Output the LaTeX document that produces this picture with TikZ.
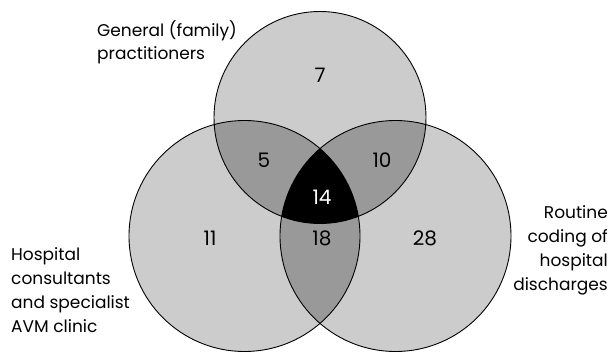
\documentclass[tikz,border=0pt]{standalone}
\usepackage{fontspec}
\setmainfont{Poppins}
\definecolor{lightg}{HTML}{CCCCCC}
\definecolor{midg}{HTML}{999999}
\tikzset{
  lbl/.style={inner sep=0pt, font=\fontsize{17}{24}\selectfont},
  num/.style={inner sep=0pt, font=\fontsize{20}{24}\selectfont},
  outline/.style={draw=black, line width=0.9pt}
}
\begin{document}
\begin{tikzpicture}[x=1pt,y=-1pt]
\useasboundingbox (0,0) rectangle (611,353);
\def\T{(320,117.5) circle [radius=106pt]}
\def\L{(244.5,236) circle [radius=115.5pt]}
\def\R{(395.5,236) circle [radius=115.5pt]}
\fill[lightg] \T;
\fill[lightg] \L;
\fill[lightg] \R;
\begin{scope}\clip \T; \fill[midg] \L; \fill[midg] \R; \end{scope}
\begin{scope}\clip \L; \fill[midg] \R; \end{scope}
\begin{scope}\clip \T; \clip \L; \fill[black] \R; \end{scope}
\draw[outline] \T;
\draw[outline] \L;
\draw[outline] \R;
\node[num] (n7) at (320,75) {7};
\node[num] (n5) at (264,160) {5};
\node[num] (n10) at (382,160) {10};
\node[num, text=white] (n14) at (322,197) {14};
\node[num] (n11) at (210,238) {11};
\node[num] (n18) at (322,238) {18};
\node[num] (n28) at (425,238) {28};
\node[lbl, align=left, anchor=base west] (gp) at (97,60) {General (family)\\practitioners};
\node[lbl, align=left, anchor=base west] (hc) at (11,332) {Hospital\\consultants\\and specialist\\AVM clinic};
\node[lbl, align=right, anchor=base east] (rc) at (608,290) {Routine\\coding of\\hospital\\discharges};
\end{tikzpicture}
\end{document}
